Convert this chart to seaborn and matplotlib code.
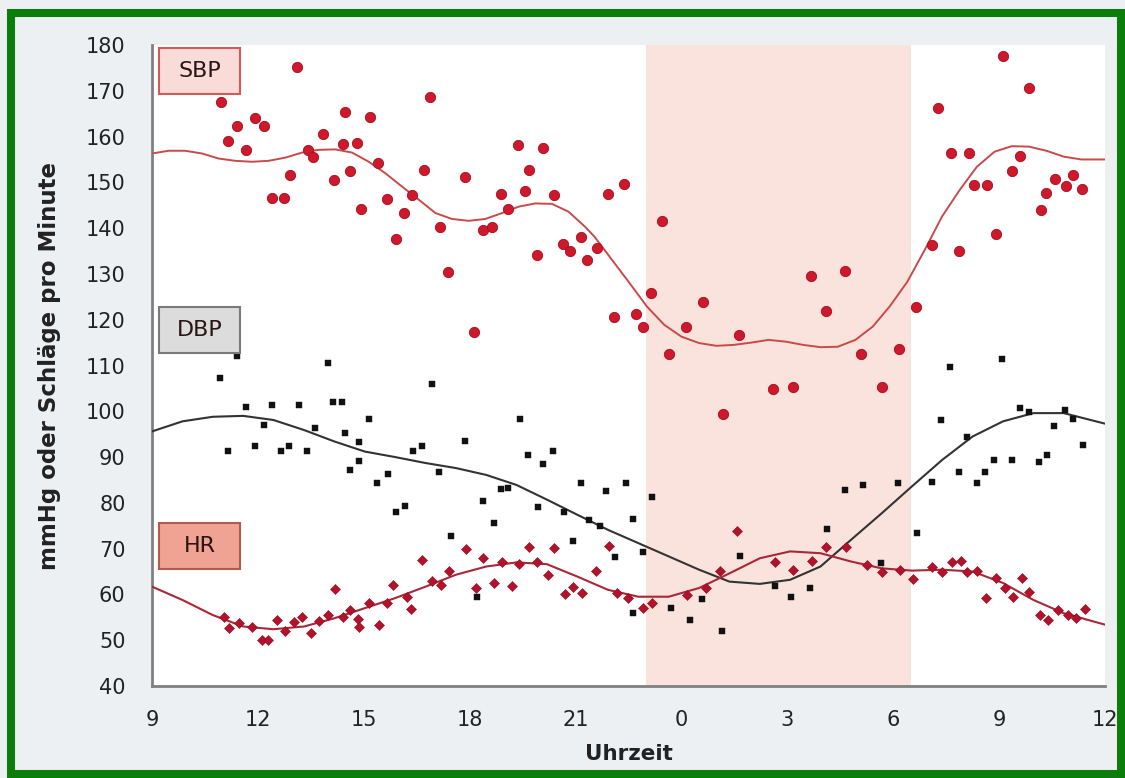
import pandas as pd
import numpy as np
import matplotlib
matplotlib.use("Agg")
import matplotlib.pyplot as plt
from matplotlib.patches import Rectangle
import seaborn as sns

# time in hours, continued past midnight (24 = 0 Uhr, 33 = 9 Uhr next day)
sbp_t = [10.95, 11.15, 11.4, 11.66, 11.92, 12.17, 12.4, 12.74, 12.9, 13.1, 13.42, 13.56, 13.84, 14.15,
         14.47, 14.4, 14.6, 14.8, 14.92, 15.18, 15.4, 15.66, 15.9, 16.14, 16.37, 16.7, 16.88, 17.16, 17.4,
         17.87, 18.12, 18.38, 18.63, 18.9, 19.1, 19.37, 19.57, 19.68, 19.9, 20.08, 20.4, 20.65, 20.84, 21.15,
         21.33, 21.6, 21.92, 22.1, 22.37, 22.7, 22.9, 23.14, 23.45, 23.65, 24.13, 24.6, 25.18, 25.63, 26.6,
         27.16, 27.67, 28.1, 28.63, 29.08, 29.68, 30.16, 30.64, 31.1, 31.27, 31.63, 31.86, 32.14, 32.3,
         32.65, 32.9, 33.1, 33.36, 33.6, 33.85, 34.2, 34.33, 34.58, 34.9, 35.1, 35.35]
sbp_v = [167.6, 159, 162.3, 157, 164, 162.3, 146.6, 146.6, 151.6, 175.2, 157, 155.5, 160.6, 150.5,
         165.4, 158.4, 152.5, 158.6, 144.2, 164.3, 154.2, 146.4, 137.6, 143.2, 147.2, 152.7, 168.6, 140.3, 130.4,
         151.2, 117.3, 139.6, 140.3, 147.5, 144.2, 158.2, 148.1, 152.7, 134.1, 157.5, 147.2, 136.6, 135.0, 138.1,
         133.1, 135.7, 147.4, 120.6, 149.7, 121.3, 118.4, 125.8, 141.6, 112.5, 118.4, 123.9, 99.4, 116.7, 104.9,
         105.3, 129.6, 121.9, 130.7, 112.5, 105.3, 113.6, 122.8, 136.3, 166.2, 156.4, 135.0, 156.4, 149.4,
         149.4, 138.7, 177.6, 152.5, 155.8, 170.6, 144.0, 147.7, 150.7, 149.2, 151.6, 148.5]

dbp_t = [10.93, 11.4, 11.15, 11.66, 11.92, 12.17, 12.4, 12.65, 12.88, 13.16, 13.4, 13.62, 14.0, 14.13,
         14.38, 14.47, 14.6, 14.86, 14.86, 15.15, 15.37, 15.68, 15.9, 16.17, 16.4, 16.65, 16.93, 17.13, 17.47,
         17.87, 18.2, 18.38, 18.7, 18.9, 19.08, 19.43, 19.65, 19.93, 20.08, 20.36, 20.67, 20.93, 21.15, 21.38,
         21.7, 21.86, 22.12, 22.43, 22.63, 22.63, 22.9, 23.16, 23.7, 24.24, 24.58, 25.15, 25.66, 26.65, 27.1,
         27.64, 28.12, 28.63, 29.14, 29.65, 30.13, 30.67, 31.1, 31.35, 31.6, 31.86, 32.1, 32.37, 32.6, 32.85,
         33.08, 33.36, 33.6, 33.85, 34.13, 34.35, 34.55, 34.86, 35.1, 35.37]
dbp_v = [107.3, 112.1, 91.4, 101.0, 92.4, 97.0, 101.4, 91.4, 92.4, 101.4, 91.4, 96.4, 110.6, 102.1,
         102.1, 95.3, 87.2, 93.3, 89.2, 98.3, 84.4, 86.3, 78.0, 79.3, 91.4, 92.4, 106.0, 86.8, 72.8,
         93.5, 59.5, 80.4, 75.6, 83.1, 83.3, 98.3, 90.5, 79.1, 88.5, 91.4, 78.0, 71.7, 84.4, 76.3,
         75.0, 82.6, 68.2, 84.4, 76.5, 56.0, 69.3, 81.3, 57.1, 54.4, 59.0, 52.1, 68.4, 61.9, 59.5,
         61.4, 74.3, 82.8, 83.9, 66.9, 84.4, 73.5, 84.6, 98.1, 109.7, 86.8, 94.4, 84.4, 86.8, 89.4,
         111.4, 89.4, 100.7, 99.8, 89.0, 90.5, 96.8, 100.3, 98.3, 92.7]

hr_t = [11.04, 11.18, 11.46, 11.83, 12.12, 12.29, 12.54, 12.77, 13.02, 13.25, 13.5, 13.73, 13.98, 14.18,
        14.41, 14.6, 14.84, 14.86, 15.15, 15.43, 15.66, 15.83, 16.22, 16.33, 16.65, 16.93, 17.19, 17.41,
        17.9, 18.18, 18.38, 18.69, 18.91, 19.2, 19.4, 19.68, 19.9, 20.22, 20.39, 20.7, 20.93, 21.18, 21.58,
        21.95, 22.17, 22.48, 22.9, 23.16, 24.16, 24.7, 25.1, 25.57, 26.65, 27.16, 27.7, 28.1, 28.66, 29.25,
        29.68, 30.2, 30.56, 31.1, 31.38, 31.66, 31.92, 32.1, 32.37, 32.63, 32.9, 33.16, 33.39, 33.65, 33.85,
        34.15, 34.38, 34.66, 34.95, 35.17, 35.43]
hr_v = [55.1, 52.7, 53.8, 52.9, 50.0, 50.0, 54.4, 52.1, 54.0, 55.1, 51.6, 54.2, 55.5, 61.2,
        55.1, 56.6, 54.7, 52.9, 58.1, 53.4, 58.1, 62.1, 59.5, 56.9, 67.6, 63.0, 62.1, 65.2,
        70.0, 61.4, 68.0, 62.6, 67.1, 61.9, 66.7, 70.4, 67.1, 64.3, 70.2, 60.1, 61.7, 60.3, 65.2,
        70.6, 60.3, 59.3, 57.1, 58.2, 59.9, 61.4, 65.2, 73.9, 67.1, 65.4, 67.3, 70.4, 70.4, 66.5,
        64.8, 65.4, 63.4, 66.0, 64.8, 67.1, 67.3, 64.8, 65.2, 59.3, 63.6, 61.4, 59.5, 63.6, 60.6,
        55.5, 54.4, 56.6, 55.5, 54.9, 56.9]

# fitted curves
sbp_fit_t = [9.0, 9.47, 9.94, 10.42, 10.89, 11.36, 11.83, 12.3, 12.78, 13.25, 13.72, 14.19, 14.67, 15.14,
             15.61, 16.08, 16.56, 17.03, 17.5, 17.97, 18.44, 18.92, 19.39, 19.86, 20.33, 20.8, 21.27, 21.54,
             22.03, 22.53, 23.02, 23.51, 24.0, 24.5, 24.99, 25.48, 25.98, 26.47, 26.96, 27.45, 27.94, 28.43,
             28.93, 29.42, 29.9, 30.4, 30.89, 31.38, 31.88, 32.37, 32.87, 33.36, 33.85, 34.34, 34.84, 35.33, 36.0]
sbp_fit = [156.3, 156.9, 156.9, 156.3, 155.2, 154.7, 154.5, 154.7, 155.4, 156.5, 157.1, 157.2, 156.5, 154.5,
           152.0, 149.1, 146.2, 143.3, 142.0, 141.6, 142.0, 143.3, 144.7, 145.4, 145.3, 143.6, 140.3, 138.1,
           133.1, 128.0, 122.9, 118.9, 116.3, 114.9, 114.3, 114.5, 115.0, 115.6, 115.2, 114.5, 114.0, 114.1,
           115.6, 118.5, 122.9, 128.3, 135.2, 142.5, 148.3, 153.4, 156.7, 157.9, 157.8, 156.9, 155.6, 155.0, 155.0]

curve_t = [9.0, 9.86, 10.72, 11.58, 12.44, 13.31, 14.17, 15.03, 15.89, 16.75, 17.61, 18.47, 19.33, 20.19,
           21.05, 21.92, 22.78, 23.64, 24.5, 25.36, 26.22, 27.08, 27.94, 28.8, 29.67, 30.53, 31.39, 32.25,
           33.11, 33.97, 34.83, 36.0]
dbp_fit = [95.6, 97.8, 98.8, 99.0, 98.1, 95.9, 93.4, 91.2, 90.0, 88.7, 87.6, 86.1, 83.9, 80.7,
           77.4, 74.1, 71.2, 68.3, 65.4, 62.8, 62.3, 63.2, 66.1, 71.9, 77.7, 83.6, 89.4, 94.5,
           97.8, 99.6, 99.6, 97.3]
hr_fit = [61.7, 58.8, 55.5, 53.0, 52.4, 53.0, 54.8, 57.0, 59.2, 61.7, 64.3, 66.1, 67.0, 66.6,
          63.9, 61.0, 59.5, 59.5, 61.4, 64.6, 67.9, 69.4, 69.0, 67.2, 65.7, 65.2, 65.4, 65.0,
          62.5, 58.8, 55.9, 53.4]

x_ticks = list(range(9, 37, 3))
x_labels = ["9", "12", "15", "18", "21", "0", "3", "6", "9", "12"]
night = (23, 30.5)

sns.set_style("white")
plt.rcParams['font.family'] = ['DejaVu Sans']

fig = plt.figure(figsize=(11.25, 7.78), dpi=100, facecolor='#edf0f2')
ax = fig.add_axes([152 / 1125, 1 - 686 / 778, 953 / 1125, 641 / 778])
ax.set_facecolor('white')

# green frame around the whole picture
fig.patches.append(Rectangle((11 / 1125, 4 / 778), 1110 / 1125, 761 / 778, transform=fig.transFigure,
                             fill=False, edgecolor='#0a7d0a', linewidth=5.8))

ax.axvspan(night[0], night[1], color='#f9e3dc', zorder=0, lw=0)

df_sbp = pd.DataFrame({'t': sbp_t, 'v': sbp_v})
df_dbp = pd.DataFrame({'t': dbp_t, 'v': dbp_v})
df_hr = pd.DataFrame({'t': hr_t, 'v': hr_v})
df_sfit = pd.DataFrame({'t': sbp_fit_t, 'v': sbp_fit})
df_fit = pd.DataFrame({'t': curve_t, 'dbp': dbp_fit, 'hr': hr_fit})

sns.lineplot(data=df_sfit, x='t', y='v', color='#c84a4a', lw=1.4, ax=ax, zorder=3)
sns.lineplot(data=df_fit, x='t', y='dbp', color='#333333', lw=1.5, ax=ax, zorder=3)
sns.lineplot(data=df_fit, x='t', y='hr', color='#a8283a', lw=1.5, ax=ax, zorder=3)

sns.scatterplot(data=df_sbp, x='t', y='v', marker='o', s=55, color='#d0182c', edgecolor='#a01020',
                linewidth=0.6, ax=ax, zorder=4)
sns.scatterplot(data=df_dbp, x='t', y='v', marker='s', s=24, color='#111111', edgecolor='#111111',
                linewidth=0.3, ax=ax, zorder=4)
sns.scatterplot(data=df_hr, x='t', y='v', marker='D', s=26, color='#b3122a', edgecolor='#8a0f20',
                linewidth=0.4, ax=ax, zorder=4)

ax.set_xlim(9, 36)
ax.set_ylim(40, 180)
ax.set_xticks(x_ticks)
ax.set_xticklabels(x_labels)
ax.set_xticks(np.arange(10.5, 36, 3), minor=True)
ax.set_yticks(range(40, 181, 10))
ax.set_yticks(range(45, 180, 10), minor=True)
ax.tick_params(axis='both', which='both', direction='out', length=7, width=1.5, color='#808080')
ax.tick_params(axis='y', which='both', length=10)
ax.tick_params(axis='x', which='major', labelsize=15, pad=10, labelcolor='#222222')
ax.tick_params(axis='y', which='major', labelsize=15, pad=9, labelcolor='#222222')

for s in ['top', 'right']:
    ax.spines[s].set_visible(False)
for s in ['left', 'bottom']:
    ax.spines[s].set_color('#808080')
    ax.spines[s].set_linewidth(2)

ax.set_xlabel('Uhrzeit', fontsize=15.5, fontweight='bold', color='#222222', labelpad=10)
ax.set_ylabel('mmHg oder Schläge pro Minute', fontsize=16.5, fontweight='bold', color='#222222', labelpad=18)

# label boxes
boxes = [('SBP', 179.3, '#f9dcd8', '#d45a5a'),
         ('DBP', 122.8, '#dcdcdc', '#7a7a7a'),
         ('HR', 75.6, '#f0a392', '#b35a4e')]
for name, top, fc, ec in boxes:
    ax.add_patch(Rectangle((9.2, top - 10.0), 2.29, 10.0, facecolor=fc, edgecolor=ec, lw=1.5, zorder=5))
    ax.text(9.2 + 2.29 / 2, top - 5.0, name, ha='center', va='center', fontsize=16, color='#2a1616', zorder=6)

fig.savefig('out.png', dpi=100, facecolor=fig.get_facecolor())
